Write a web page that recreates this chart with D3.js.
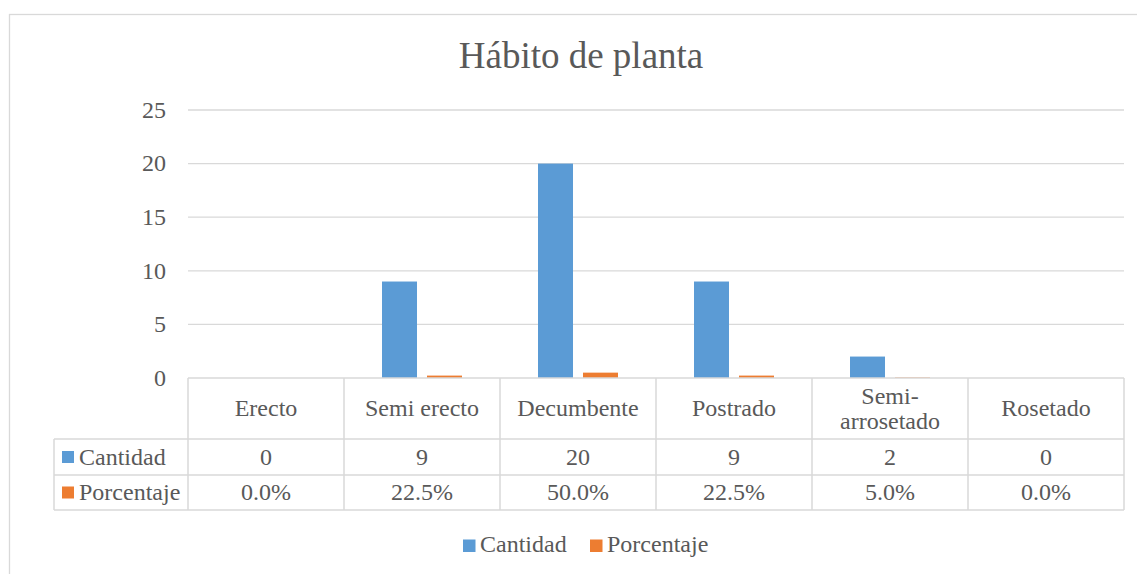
<!DOCTYPE html>
<html><head><meta charset="utf-8">
<script src="https://cdn.jsdelivr.net/npm/d3@7"></script>
<style>body{margin:0;background:#fff}svg{display:block}</style>
</head><body><svg id="c" width="1137" height="574"></svg>
<script>
const title = "Hábito de planta";
const categories = ["Erecto","Semi erecto","Decumbente","Postrado","Semi-arrosetado","Rosetado"];
const categoryLines = [["Erecto"],["Semi erecto"],["Decumbente"],["Postrado"],["Semi-","arrosetado"],["Rosetado"]];
const seriesNames = ["Cantidad","Porcentaje"];
const cantidad = [0,9,20,9,2,0];
const porcentaje = [0,0.225,0.5,0.225,0.05,0];
const yTicks = [0,5,10,15,20,25];
const colors = ["#5B9BD5","#ED7D31"];

const FONT = "'Liberation Serif', 'Times New Roman', serif";
const TXT = "#595959";
const svg = d3.select("#c");
const grid = "#d9d9d9";
function txt(sel, size){ return sel.style("font-family",FONT).style("font-size",size+"px").attr("fill",TXT); }

svg.append("rect").attr("x",9.5).attr("y",14.5).attr("width",1140).attr("height",600)
  .attr("fill","#fff").attr("stroke",grid).attr("stroke-width",1.3);

const L=188, R=1124, T=110, B=378;
const y = d3.scaleLinear().domain([0,25]).range([B,T]);
const x0 = d3.scaleBand().domain(categories).range([L,R]).padding(0);
const x1 = d3.scaleBand().domain(seriesNames).range([38,118]).paddingInner(0.222).paddingOuter(0);

txt(svg.append("text").attr("x",581).attr("y",68).attr("text-anchor","middle"),37).text(title);

svg.append("g").selectAll("line").data(yTicks.filter(d=>d>0)).join("line")
  .attr("x1",L).attr("x2",R).attr("y1",d=>y(d)).attr("y2",d=>y(d))
  .attr("stroke",grid).attr("stroke-width",1.3);

const yAxis = d3.axisLeft(y).tickValues(yTicks).tickSize(0).tickPadding(0);
const ga = svg.append("g").attr("transform",`translate(166,0)`).call(yAxis);
ga.select(".domain").remove();
ga.attr("font-family",null).attr("font-size",null);
txt(ga.selectAll("text"),24).attr("dy","0.3em");

const data = [cantidad, porcentaje];
data.forEach((vals,si)=>{
  svg.append("g").selectAll("rect").data(vals).join("rect")
    .attr("x",(d,i)=>x0(categories[i])+x1(seriesNames[si]))
    .attr("width",x1.bandwidth())
    .attr("y",d=>y(d))
    .attr("height",d=>B-y(d))
    .attr("fill",colors[si]);
});

const rowBounds = [B, 439, 475, 510];
const tbl = svg.append("g");
const lw = 1.5;
tbl.append("line").attr("x1",L).attr("x2",R).attr("y1",B).attr("y2",B).attr("stroke",grid).attr("stroke-width",lw);
[439,475,510].forEach(yy=>tbl.append("line").attr("x1",54).attr("x2",R).attr("y1",yy).attr("y2",yy).attr("stroke",grid).attr("stroke-width",lw));
categories.forEach((c,i)=>{
  tbl.append("line").attr("x1",x0(c)).attr("x2",x0(c)).attr("y1",B).attr("y2",510).attr("stroke",grid).attr("stroke-width",lw);
});
tbl.append("line").attr("x1",R).attr("x2",R).attr("y1",B).attr("y2",510).attr("stroke",grid).attr("stroke-width",lw);
tbl.append("line").attr("x1",54).attr("x2",54).attr("y1",439).attr("y2",510).attr("stroke",grid).attr("stroke-width",lw);

categories.forEach((c,i)=>{
  const cx = x0(c)+x0.bandwidth()/2;
  const lines = categoryLines[i];
  const mid = (B+439)/2;
  lines.forEach((t,j)=>{
    txt(tbl.append("text").attr("x",cx).attr("y",mid + (j-(lines.length-1)/2)*25).attr("dy","0.32em")
      .attr("text-anchor","middle"),24).text(t);
  });
});
const fmt = [d=>d3.format("d")(d), d=>d3.format(".1%")(d)];
data.forEach((vals,si)=>{
  const mid = (rowBounds[si+1]+rowBounds[si+2])/2;
  tbl.append("rect").attr("x",62).attr("y",mid-6).attr("width",12).attr("height",12).attr("fill",colors[si]);
  txt(tbl.append("text").attr("x",79).attr("y",mid).attr("dy","0.32em"),24).text(seriesNames[si]);
  vals.forEach((v,i)=>{
    txt(tbl.append("text").attr("x",x0(categories[i])+x0.bandwidth()/2).attr("y",mid).attr("dy","0.32em")
      .attr("text-anchor","middle"),24).text(fmt[si](v));
  });
});

const leg = svg.append("g");
const legX = [463, 590];
seriesNames.forEach((s,i)=>{
  leg.append("rect").attr("x",legX[i]).attr("y",539.5).attr("width",12.5).attr("height",12.5).attr("fill",colors[i]);
  txt(leg.append("text").attr("x",legX[i]+17).attr("y",552),24).text(s);
});
</script></body></html>
